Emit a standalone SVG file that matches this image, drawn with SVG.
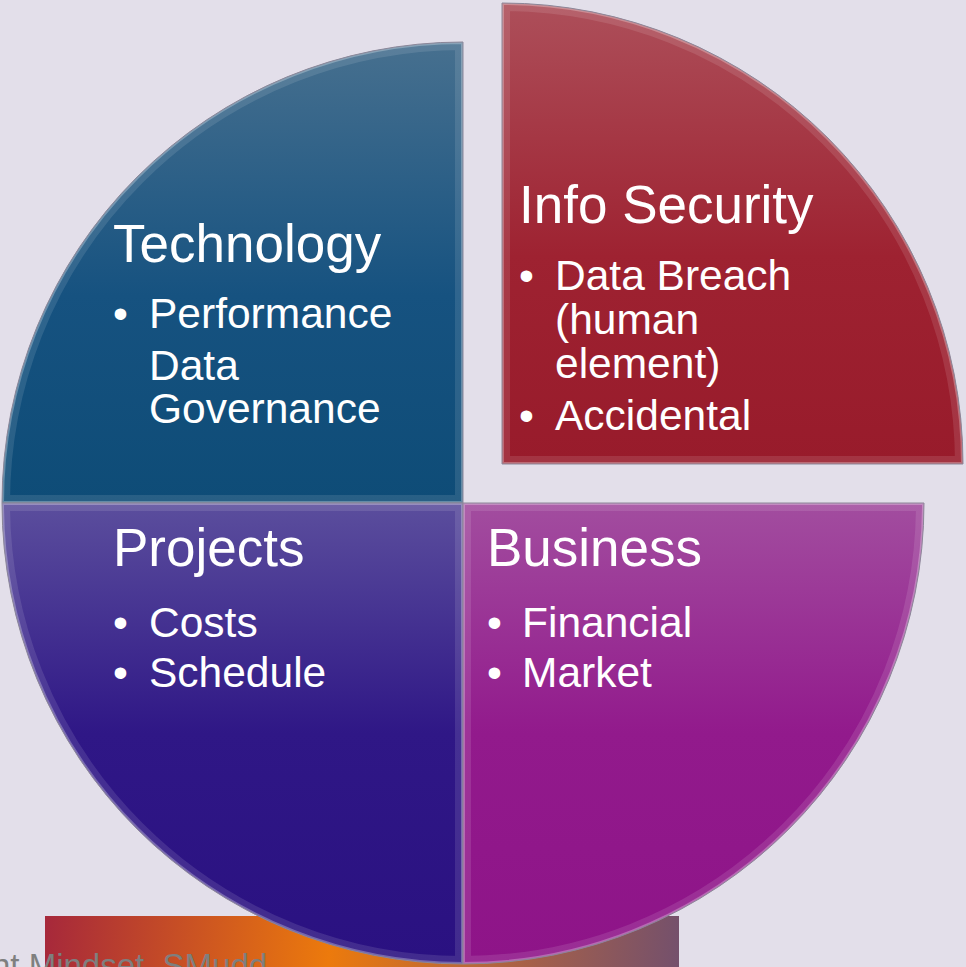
<svg xmlns="http://www.w3.org/2000/svg" width="966" height="967" viewBox="0 0 966 967">
  <style>
    .t { font-family: "Liberation Sans", Arial, sans-serif; fill: #ffffff; }
    .title { font-size: 53px; }
    .item { font-size: 42.5px; }
    .rim { fill: none; stroke: #ffffff; stroke-opacity: 0.11; stroke-width: 16; stroke-linejoin: miter; }
    .edge { fill: none; stroke: #ffffff; stroke-opacity: 0.28; stroke-width: 4; stroke-linejoin: miter; }
    .outline { fill: none; stroke: #8c8799; stroke-width: 1; }
    .footer { font-family: "Liberation Sans", Arial, sans-serif; font-size: 33px; fill: #7f7f7f; }
  </style>
  <defs>
    <linearGradient id="gTech" x1="0" y1="42" x2="0" y2="503" gradientUnits="userSpaceOnUse">
      <stop offset="0" stop-color="#47708f"/>
      <stop offset="0.55" stop-color="#165280"/>
      <stop offset="1" stop-color="#0e4c77"/>
    </linearGradient>
    <linearGradient id="gSec" x1="0" y1="3" x2="0" y2="464" gradientUnits="userSpaceOnUse">
      <stop offset="0" stop-color="#ad4f5a"/>
      <stop offset="0.55" stop-color="#9e2231"/>
      <stop offset="1" stop-color="#981b2b"/>
    </linearGradient>
    <linearGradient id="gProj" x1="0" y1="503" x2="0" y2="964" gradientUnits="userSpaceOnUse">
      <stop offset="0" stop-color="#5b4e9d"/>
      <stop offset="0.5" stop-color="#2f1786"/>
      <stop offset="1" stop-color="#2a1181"/>
    </linearGradient>
    <linearGradient id="gBiz" x1="0" y1="503" x2="0" y2="964" gradientUnits="userSpaceOnUse">
      <stop offset="0" stop-color="#a24d9f"/>
      <stop offset="0.5" stop-color="#921a8c"/>
      <stop offset="1" stop-color="#8e1488"/>
    </linearGradient>
    <linearGradient id="gBand" x1="45" y1="916" x2="679" y2="967" gradientUnits="userSpaceOnUse">
      <stop offset="0" stop-color="#a6283b"/>
      <stop offset="0.45" stop-color="#ec7a0c"/>
      <stop offset="0.78" stop-color="#a25f4c"/>
      <stop offset="1" stop-color="#74506c"/>
    </linearGradient>
    <path id="pTech" d="M463,503 L2,503 A461,461 0 0 1 463,42 Z"/>
    <path id="pSec" d="M502,464 L502,3 A461,461 0 0 1 963,464 Z"/>
    <path id="pProj" d="M463,503 L463,964 A461,461 0 0 1 2,503 Z"/>
    <path id="pBiz" d="M463,503 L924,503 A461,461 0 0 1 463,964 Z"/>
    <clipPath id="cTech"><use href="#pTech"/></clipPath>
    <clipPath id="cSec"><use href="#pSec"/></clipPath>
    <clipPath id="cProj"><use href="#pProj"/></clipPath>
    <clipPath id="cBiz"><use href="#pBiz"/></clipPath>
  </defs>

  <!-- page background -->
  <rect width="966" height="967" fill="#e3dfea"/>

  <!-- footer band -->
  <g id="footer">
    <rect x="45" y="916" width="634" height="51" fill="url(#gBand)"/>
  </g>

  <!-- quadrant: Technology -->
  <g id="technology">
    <use href="#pTech" fill="url(#gTech)"/>
    <g clip-path="url(#cTech)">
      <use href="#pTech" class="rim"/>
      <use href="#pTech" class="edge"/>
    </g>
    <use href="#pTech" class="outline"/>
    <text class="t title" x="113" y="262">Technology</text>
    <text class="t item" x="113" y="328">•</text>
    <text class="t item" x="149" y="328">Performance</text>
    <text class="t item" x="149" y="380">Data</text>
    <text class="t item" x="149" y="423">Governance</text>
  </g>

  <!-- quadrant: Projects -->
  <g id="projects">
    <use href="#pProj" fill="url(#gProj)"/>
    <g clip-path="url(#cProj)">
      <use href="#pProj" class="rim"/>
      <use href="#pProj" class="edge"/>
    </g>
    <use href="#pProj" class="outline"/>
    <text class="t title" x="113" y="566">Projects</text>
    <text class="t item" x="113" y="637">•</text>
    <text class="t item" x="149" y="637">Costs</text>
    <text class="t item" x="113" y="687">•</text>
    <text class="t item" x="149" y="687">Schedule</text>
  </g>

  <!-- quadrant: Business -->
  <g id="business">
    <use href="#pBiz" fill="url(#gBiz)"/>
    <g clip-path="url(#cBiz)">
      <use href="#pBiz" class="rim"/>
      <use href="#pBiz" class="edge"/>
    </g>
    <use href="#pBiz" class="outline"/>
    <text class="t title" x="487" y="566">Business</text>
    <text class="t item" x="487" y="637">•</text>
    <text class="t item" x="522" y="637">Financial</text>
    <text class="t item" x="487" y="687">•</text>
    <text class="t item" x="522" y="687">Market</text>
  </g>

  <!-- quadrant: Info Security (pulled out) -->
  <g id="info-security">
    <use href="#pSec" fill="url(#gSec)"/>
    <g clip-path="url(#cSec)">
      <use href="#pSec" class="rim"/>
      <use href="#pSec" class="edge"/>
    </g>
    <use href="#pSec" class="outline"/>
    <text class="t title" x="519" y="223">Info Security</text>
    <text class="t item" x="519" y="290">•</text>
    <text class="t item" x="555" y="290">Data Breach</text>
    <text class="t item" x="555" y="334">(human</text>
    <text class="t item" x="555" y="378">element)</text>
    <text class="t item" x="519" y="430">•</text>
    <text class="t item" x="555" y="430">Accidental</text>
  </g>

  <!-- caption over the band, running off the page edge -->
  <text class="footer" x="-8" y="977">nt Mindset, SMudd</text>

  <g id="connectors"/>
</svg>
